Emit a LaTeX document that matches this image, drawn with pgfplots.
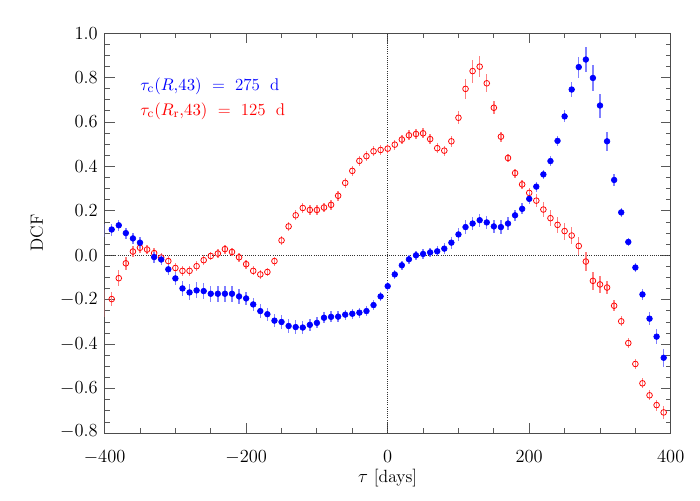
\documentclass[border=0pt]{standalone}
\usepackage{pgfplots}
\pgfplotsset{compat=1.18}
\usepackage{pgfplotstable}

\pgfplotstableread{
x yb eb
-390 0.116 0.027
-380 0.135 0.025
-370 0.100 0.025
-360 0.076 0.025
-350 0.057 0.025
-330 -0.008 0.025
-320 -0.019 0.025
-310 -0.063 0.025
-300 -0.104 0.028
-290 -0.149 0.033
-280 -0.167 0.036
-270 -0.158 0.036
-260 -0.161 0.036
-250 -0.173 0.036
-240 -0.173 0.036
-230 -0.173 0.036
-220 -0.173 0.036
-210 -0.185 0.032
-200 -0.194 0.030
-190 -0.221 0.030
-180 -0.251 0.030
-170 -0.265 0.030
-160 -0.294 0.030
-150 -0.300 0.030
-140 -0.318 0.030
-130 -0.323 0.030
-120 -0.325 0.030
-110 -0.313 0.028
-100 -0.304 0.025
-90 -0.281 0.025
-80 -0.277 0.025
-70 -0.276 0.025
-60 -0.267 0.022
-50 -0.263 0.022
-40 -0.258 0.022
-30 -0.251 0.022
-20 -0.224 0.022
-10 -0.185 0.020
0 -0.139 0.020
10 -0.086 0.020
20 -0.045 0.020
30 -0.018 0.020
40 0.000 0.020
50 0.006 0.022
60 0.013 0.022
70 0.018 0.022
80 0.030 0.025
90 0.057 0.027
100 0.094 0.030
110 0.127 0.030
120 0.143 0.030
130 0.158 0.030
140 0.148 0.030
150 0.130 0.030
160 0.127 0.030
170 0.143 0.028
180 0.180 0.026
190 0.209 0.025
200 0.254 0.025
210 0.309 0.022
220 0.364 0.022
230 0.424 0.022
240 0.515 0.024
250 0.625 0.027
260 0.746 0.033
270 0.847 0.047
280 0.881 0.056
290 0.798 0.060
300 0.674 0.054
310 0.513 0.043
320 0.339 0.025
330 0.193 0.020
340 0.060 0.020
350 -0.055 0.022
360 -0.176 0.025
370 -0.285 0.030
380 -0.366 0.035
390 -0.461 0.040
}\blue

\pgfplotstableread{
x yr er
-390 -0.197 0.032
-380 -0.103 0.035
-370 -0.036 0.030
-360 0.017 0.025
-350 0.034 0.022
-340 0.026 0.022
-330 0.010 0.022
-320 -0.010 0.022
-310 -0.026 0.022
-300 -0.057 0.022
-290 -0.070 0.022
-280 -0.070 0.022
-270 -0.049 0.022
-260 -0.022 0.022
-250 -0.003 0.020
-240 0.008 0.020
-230 0.028 0.020
-220 0.015 0.020
-210 -0.009 0.020
-200 -0.040 0.020
-190 -0.070 0.020
-180 -0.086 0.020
-170 -0.075 0.020
-160 -0.026 0.020
-150 0.067 0.020
-140 0.130 0.022
-130 0.180 0.022
-120 0.213 0.022
-110 0.204 0.022
-100 0.204 0.022
-90 0.215 0.022
-80 0.227 0.022
-70 0.268 0.022
-60 0.326 0.022
-50 0.380 0.022
-40 0.425 0.022
-30 0.446 0.022
-20 0.468 0.022
-10 0.474 0.022
0 0.480 0.022
10 0.498 0.022
20 0.521 0.022
30 0.540 0.022
40 0.546 0.022
50 0.549 0.022
60 0.523 0.022
70 0.482 0.022
80 0.471 0.022
90 0.513 0.025
100 0.619 0.030
110 0.749 0.045
120 0.829 0.052
130 0.849 0.048
140 0.774 0.040
150 0.664 0.030
160 0.534 0.022
170 0.438 0.020
180 0.370 0.020
190 0.319 0.020
200 0.281 0.022
210 0.246 0.030
220 0.206 0.033
230 0.167 0.035
240 0.137 0.035
250 0.109 0.038
260 0.089 0.038
270 0.042 0.040
280 -0.028 0.042
290 -0.115 0.041
300 -0.131 0.038
310 -0.145 0.030
320 -0.227 0.025
330 -0.297 0.022
340 -0.395 0.022
350 -0.489 0.022
360 -0.576 0.022
370 -0.630 0.022
380 -0.674 0.025
390 -0.707 0.028
}\red

\begin{document}
\begin{tikzpicture}
\begin{axis}[
  at={(0,0)}, anchor=south west,
  scale only axis, width=368pt, height=260pt,
  xmin=-400, xmax=400, ymin=-0.8, ymax=1.0,
  xtick={-400,-200,0,200,400},
  minor xtick={-350,-300,-250,-150,-100,-50,50,100,150,250,300,350},
  ytick={-0.8,-0.6,-0.4,-0.2,0,0.2,0.4,0.6,0.8,1.0},
  yticklabels={\raisebox{3pt}{$-0.8$},$-0.6$,$-0.4$,$-0.2$,$0.0$,$0.2$,$0.4$,$0.6$,$0.8$,\raisebox{-5pt}{$1.0$}},
  minor y tick num=3,
  yticklabel style={xshift=-1pt},
  tick label style={font=\fontsize{11.5}{13}\selectfont},
  xticklabel style={yshift=-8pt},
  tick align=inside,
  major tick length=6.5pt, minor tick length=3.3pt,
  tick style={black!65, line width=0.6pt},
  axis line style={black!70, line width=0.6pt},
  xtick pos=both, ytick pos=both,
  xlabel={$\tau$ [days]},
  ylabel={DCF},
  every axis x label/.style={at={(axis description cs:0.5,0)}, anchor=center, yshift=-29pt, font=\fontsize{11.5}{13}\selectfont},
  every axis y label/.style={at={(axis description cs:0,0.5)}, anchor=center, xshift=-44pt, rotate=90, font=\fontsize{11.5}{13}\selectfont},
  clip=true,
]
\draw[densely dotted, black!80] (axis cs:-400,0) -- (axis cs:400,0);
\draw[densely dotted, black!80] (axis cs:0,-0.8) -- (axis cs:0,1.0);

\addplot[only marks, mark=*, mark options={draw opacity=0, fill opacity=0},
  error bars/.cd, y dir=both, y explicit,
  error bar style={blue!50, line width=0.9pt}, error mark=none]
  coordinates {(-400,0.112) +- (0,0.03)};
\addplot[only marks, mark=*, mark options={draw opacity=0, fill opacity=0},
  error bars/.cd, y dir=both, y explicit,
  error bar style={red!50, line width=0.9pt}, error mark=none]
  coordinates {(-400,-0.217) +- (0,0.06)};

\addplot[only marks, mark=o, mark size=1.85pt,
  mark options={draw=red, fill=white, line width=0.5pt},
  error bars/.cd, y dir=both, y explicit,
  error bar style={red!50, line width=0.9pt}, error mark=none]
  table[x=x, y=yr, y error=er] {\red};

\addplot[only marks, mark=*, mark size=1.85pt,
  mark options={draw=blue, fill=blue},
  error bars/.cd, y dir=both, y explicit,
  error bar style={blue!50, line width=0.9pt}, error mark=none]
  table[x=x, y=yb, y error=eb] {\blue};

\node[anchor=west, text=blue, inner sep=0pt, font=\fontsize{11}{13}\selectfont] at (axis cs:-350,0.762)
  {$\tau_\mathrm{c}(R{,}43)$ \;=\; 275\; d};
\node[anchor=west, text=red, inner sep=0pt, font=\fontsize{11}{13}\selectfont] at (axis cs:-350,0.650)
  {$\tau_\mathrm{c}(R_\mathrm{r}{,}43)$ \;=\; 125\; d};
\end{axis}
\pgfresetboundingbox
\path (-68pt,-43.5pt) rectangle (387pt,281.5pt);
\end{tikzpicture}
\end{document}
